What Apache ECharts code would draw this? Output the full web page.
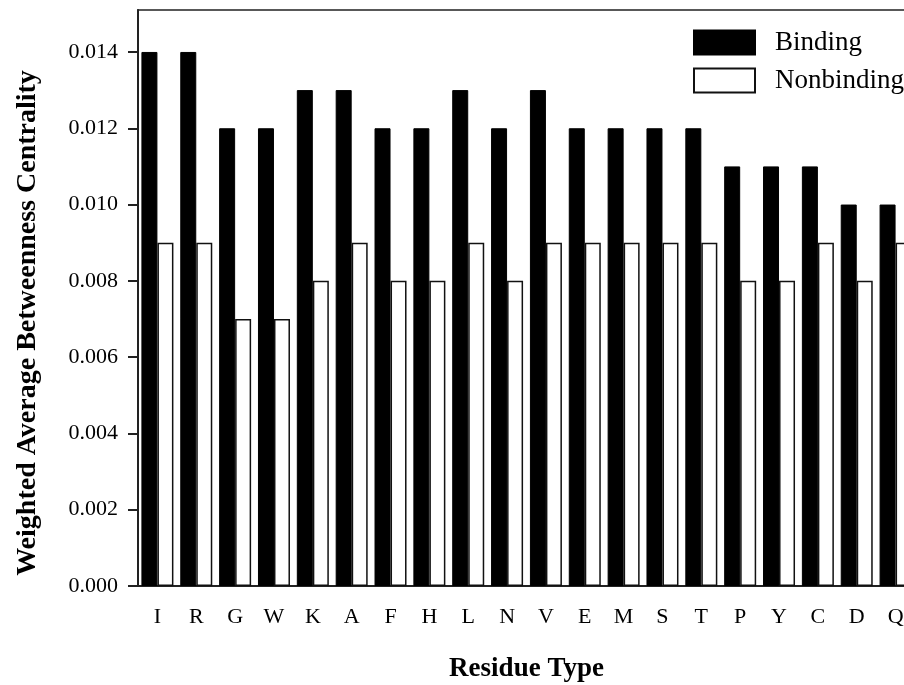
<!DOCTYPE html>
<html>
<head>
<meta charset="utf-8">
<script src="https://cdn.jsdelivr.net/npm/echarts@6/dist/echarts.min.js"></script>
<style>
html,body{margin:0;padding:0;background:#fff;}
#chart{width:904px;height:685px;}
</style>
</head>
<body>
<div id="chart"></div>
<script>
var categories = ['I','R','G','W','K','A','F','H','L','N','V','E','M','S','T','P','Y','C','D','Q'];
var binding = [0.014,0.014,0.012,0.012,0.013,0.013,0.012,0.012,0.013,0.012,0.013,0.012,0.012,0.012,0.012,0.011,0.011,0.011,0.010,0.010];
var nonbinding = [0.009,0.009,0.007,0.007,0.008,0.009,0.008,0.008,0.009,0.008,0.009,0.009,0.009,0.009,0.009,0.008,0.008,0.009,0.008,0.009];
var yTicks = [0,0.002,0.004,0.006,0.008,0.010,0.012,0.014];

var serif = '"Liberation Serif", "Times New Roman", serif';
var chart = echarts.init(document.getElementById('chart'));
chart.setOption({
  animation: false,
  backgroundColor: '#fff',
  grid: {left: 138, top: 10, bottom: 99, width: 777, containLabel: false, outerBoundsMode: 'none',
    show: true, borderColor: '#222', borderWidth: 1.5, backgroundColor: 'transparent'},
  legend: {
    left: 693, top: 29, padding: 0, orient: 'vertical', itemWidth: 61, itemHeight: 24, itemGap: 11, icon: 'rect',
    textStyle: {fontFamily: serif, fontSize: 27, color: '#000', padding: [0,0,0,15]},
    data: ['Binding','Nonbinding']
  },
  xAxis: {
    type: 'category', data: categories,
    axisLine: {lineStyle: {color: '#222', width: 2}},
    axisTick: {alignWithLabel: true, length: 11, lineStyle: {color: '#222', width: 2}},
    axisLabel: {fontFamily: serif, fontSize: 22, color: '#000', margin: 20},
    name: 'Residue Type', nameLocation: 'middle', nameGap: 70,
    nameTextStyle: {fontFamily: serif, fontSize: 27, fontWeight: 'bold', color: '#000'}
  },
  yAxis: {
    type: 'value', min: 0, max: 0.0151,
    splitLine: {show: false},
    axisLine: {show: true, lineStyle: {color: '#222', width: 2}},
    axisTick: {show: true, length: 10, customValues: yTicks, lineStyle: {color: '#222', width: 2}},
    axisLabel: {fontFamily: serif, fontSize: 22, color: '#000', margin: 20, customValues: yTicks,
      formatter: function (v) { return v.toFixed(3); }},
    name: 'Weighted Average Betweenness Centrality', nameLocation: 'middle', nameGap: 96,
    nameTextStyle: {fontFamily: serif, fontSize: 28, fontWeight: 'bold', color: '#000', padding: [0, 50, 0, 0]}
  },
  series: [
    {name: 'Binding', type: 'bar', data: binding, barWidth: 16, barGap: '0%',
     itemStyle: {color: '#000', borderColor: '#000', borderWidth: 1}},
    {name: 'Nonbinding', type: 'bar', data: nonbinding, barWidth: 16,
     itemStyle: {color: '#fff', borderColor: '#111', borderWidth: 1.5}}
  ]
});
</script>
</body>
</html>
